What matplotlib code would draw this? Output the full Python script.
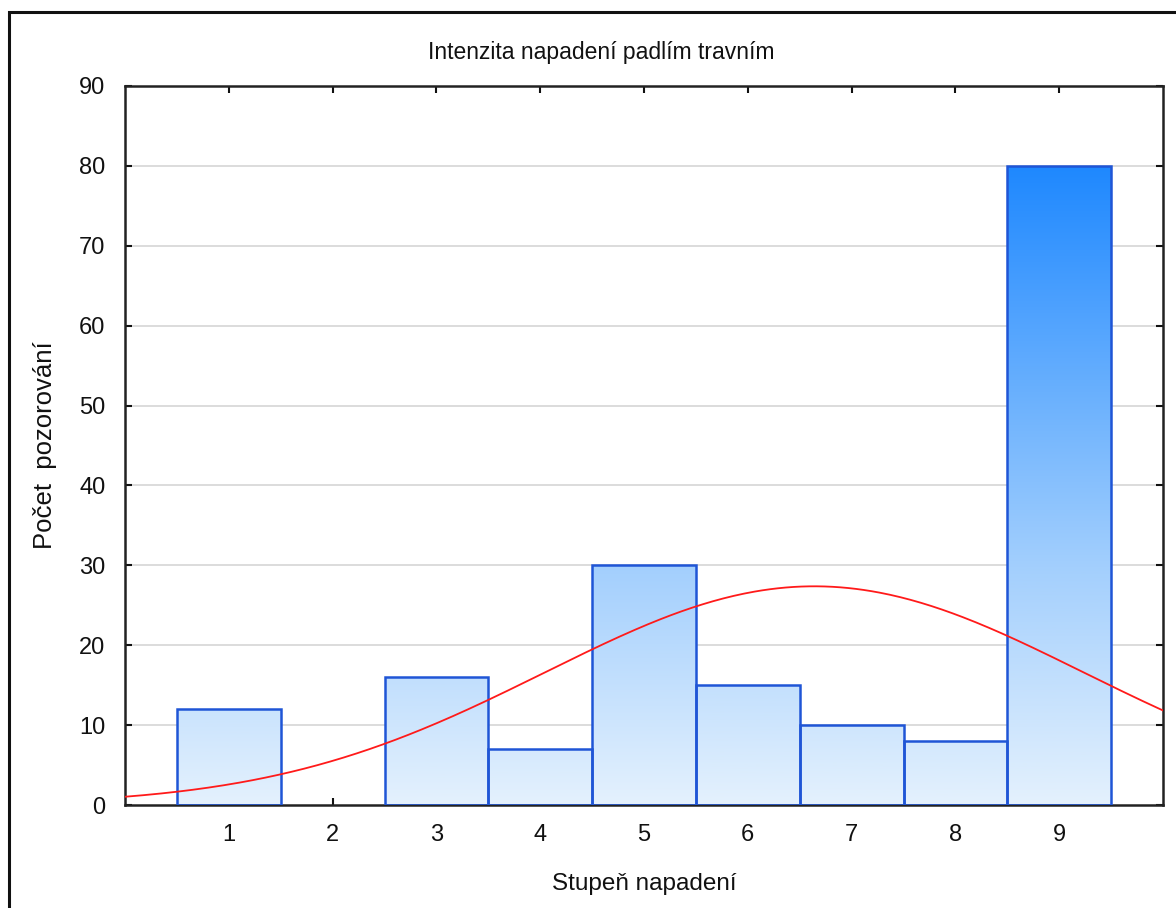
import numpy as np
import matplotlib
matplotlib.use("Agg")
import matplotlib.pyplot as plt
from matplotlib.colors import LinearSegmentedColormap
from matplotlib.patches import Rectangle

plt.rcParams["font.family"] = ["Liberation Sans", "DejaVu Sans"]

# pocet pozorovani pro kazdy stupen napadeni
stupne = [1, 2, 3, 4, 5, 6, 7, 8, 9]
pocty = [12, 0, 16, 7, 30, 15, 10, 8, 80]
y_ticks = [0, 10, 20, 30, 40, 50, 60, 70, 80, 90]

W, H = 1176, 908
fig = plt.figure(figsize=(W / 100, H / 100), dpi=100)
ax = fig.add_axes([125 / W, 1 - 805 / H, (1163 - 125) / W, (805 - 86) / H])

# outer frame of the graph window
fig.patches.append(Rectangle((9 / W, -0.1), 1.2, 1 - 12 / H + 0.1,
                             transform=fig.transFigure, fill=False,
                             edgecolor="#111111", linewidth=2.2))

ax.set_xlim(0, 10)
ax.set_ylim(0, 90)

for y in y_ticks[1:-1]:
    ax.axhline(y, color="#d9d9d9", linewidth=1.3, zorder=0)

# gradient fill: light at 0, strong blue at the top of the scale
cmap = LinearSegmentedColormap.from_list(
    "bars", [(0.0, "#e4f1fd"), (0.33, "#a3cffd"), (0.89, "#1e88ff"), (1.0, "#1e80ff")])
grad = np.linspace(0, 1, 256).reshape(-1, 1)

bars = ax.bar(stupne, pocty, width=1.0, facecolor="none",
              edgecolor="#1f55d6", linewidth=1.8, zorder=3)
for b, v in zip(bars, pocty):
    if v <= 0:
        b.set_edgecolor("none")
        continue
    im = ax.imshow(grad, cmap=cmap, origin="lower", aspect="auto",
                   extent=[0, 10, 0, 90], zorder=2)
    im.set_clip_path(b)

# normal curve fitted to the observations
x_vals = np.repeat(stupne, pocty)
mu = x_vals.mean()
sd = x_vals.std(ddof=1)
n = len(x_vals)
xs = np.linspace(0, 10, 400)
ys = n * np.exp(-0.5 * ((xs - mu) / sd) ** 2) / (sd * np.sqrt(2 * np.pi))
ax.plot(xs, ys, color="#ff1a1a", linewidth=1.3, zorder=4)

ax.set_xticks(stupne)
ax.set_yticks(y_ticks)
ax.tick_params(direction="in", length=5, width=1.5, top=True, right=True,
               labelsize=17, colors="#111111")
ax.tick_params(axis="y", pad=14)
ax.tick_params(axis="x", pad=14)
for s in ax.spines.values():
    s.set_linewidth(1.8)
    s.set_color("#222222")

fig.text(601 / W, 1 - 52 / H, "Intenzita napadení padlím travním", fontsize=16.5,
         color="#111111", ha="center", va="center")
ax.set_xlabel("Stupeň napadení", fontsize=17.5, color="#111111", labelpad=19)
ax.set_ylabel("Počet  pozorování", fontsize=18.5, color="#111111", labelpad=16)

fig.savefig("out.png", dpi=100)
